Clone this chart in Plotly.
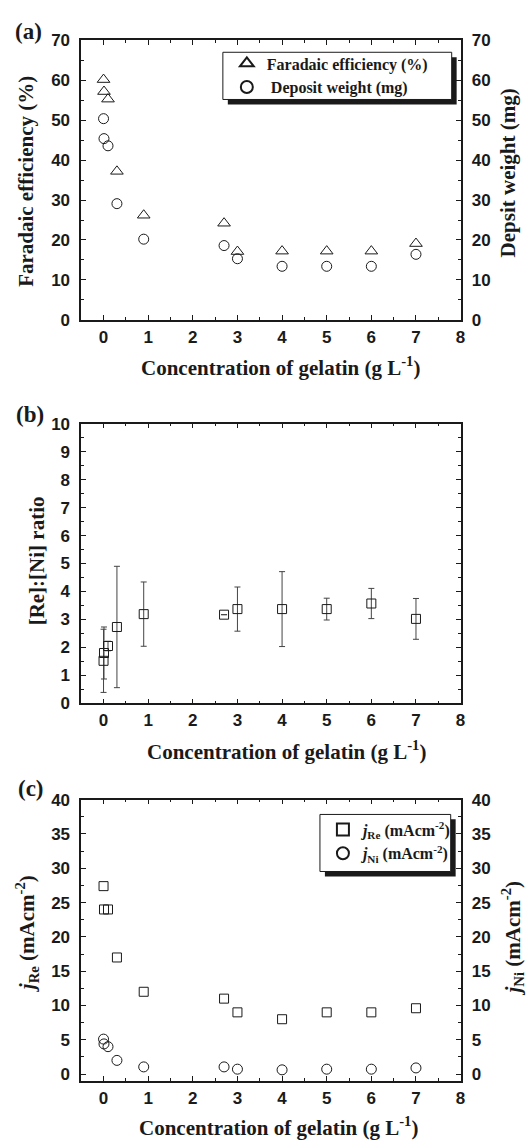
import plotly.graph_objects as go

# ---------------- data ----------------
conc = [0, 0.01, 0.1, 0.3, 0.9, 2.7, 3, 4, 5, 6, 7]

faradaic_eff = [60.2, 57.2, 55.3, 37.2, 26.2, 24.2, 17.1, 17.2, 17.2, 17.2, 19.1]
deposit_weight = [50.4, 45.4, 43.6, 29.1, 20.2, 18.6, 15.3, 13.4, 13.4, 13.4, 16.4]

ratio_re_ni = [1.52, 1.80, 2.05, 2.73, 3.19, 3.17, 3.37, 3.37, 3.37, 3.57, 3.02]
ratio_err = [1.13, 0.93, 0.17, 2.17, 1.15, 0.0, 0.79, 1.34, 0.39, 0.54, 0.73]

j_re = [27.4, 24.0, 24.0, 17.0, 12.0, 11.0, 9.0, 8.0, 9.0, 9.0, 9.6]
j_ni = [5.1, 4.4, 4.0, 2.0, 1.05, 1.05, 0.72, 0.62, 0.72, 0.72, 0.9]

x_ticks = [0, 1, 2, 3, 4, 5, 6, 7, 8]
y_ticks_a = [0, 10, 20, 30, 40, 50, 60, 70]
y_ticks_b = [0, 1, 2, 3, 4, 5, 6, 7, 8, 9, 10]
y_ticks_c = [0, 5, 10, 15, 20, 25, 30, 35, 40]

W, H = 529, 1148


def px(x):
    return x / W


def py(y):
    return 1 - y / H


SERIF = "Liberation Serif"
SANS = "Liberation Sans"
INK = "#1a1a1a"

fig = go.Figure()

mk = dict(color=INK, line=dict(color=INK, width=1))

# (a)
fig.add_trace(go.Scatter(x=conc, y=faradaic_eff, mode="markers",
                         name="<b>Faradaic efficiency (%)</b>",
                         marker=dict(symbol="triangle-up-open", size=11, **mk),
                         xaxis="x", yaxis="y", legend="legend"))
fig.add_trace(go.Scatter(x=conc, y=deposit_weight, mode="markers",
                         name="<b> Deposit weight (mg)</b>",
                         marker=dict(symbol="circle-open", size=10, **mk),
                         xaxis="x", yaxis="y4", legend="legend"))
# (b)
fig.add_trace(go.Scatter(x=conc, y=ratio_re_ni, mode="markers", showlegend=False,
                         marker=dict(symbol="square-open", size=9, **mk),
                         error_y=dict(type="data", array=ratio_err, symmetric=True,
                                      color="#444", thickness=1, width=3),
                         xaxis="x2", yaxis="y2"))
# (c)
fig.add_trace(go.Scatter(x=conc, y=j_re, mode="markers",
                         name="<b><i>j</i><sub>Re</sub> (mAcm<sup>-2</sup>)</b>",
                         marker=dict(symbol="square-open", size=9, **mk),
                         xaxis="x3", yaxis="y3", legend="legend2"))
fig.add_trace(go.Scatter(x=conc, y=j_ni, mode="markers",
                         name="<b><i>j</i><sub>Ni</sub> (mAcm<sup>-2</sup>)</b>",
                         marker=dict(symbol="circle-open", size=10, **mk),
                         xaxis="x3", yaxis="y5", legend="legend2"))

tickfont = dict(family=SANS, size=17, color=INK, weight="bold")
xdom = [px(82), px(465)]


def bold(vals):
    return ["<b>%s</b>" % v for v in vals]


def xax(anchor):
    return dict(domain=xdom, anchor=anchor, range=[-0.5, 8],
                tickvals=x_ticks, ticktext=bold(x_ticks),
                showline=True, linecolor=INK, linewidth=1.5, mirror="ticks",
                ticks="inside", ticklen=5, tickwidth=1.2, tickcolor=INK,
                minor=dict(ticks="inside", ticklen=3, dtick=0.5, tickcolor=INK, tickwidth=1),
                showgrid=False, zeroline=False, tickfont=tickfont, ticklabelstandoff=1)


def yax(dom, rng, tv, minor, side="left", overlay=None, anchor=None, mirror=False):
    d = dict(domain=dom, range=rng, tickvals=tv, ticktext=bold(tv), side=side,
             showline=True, linecolor=INK, linewidth=1.5, mirror=mirror,
             ticks="inside", ticklen=5, tickwidth=1.2, tickcolor=INK,
             minor=dict(ticks="inside", ticklen=3, dtick=minor, tick0=0,
                        tickcolor=INK, tickwidth=1),
             showgrid=False, zeroline=False, tickfont=tickfont, ticklabelstandoff=6)
    if overlay:
        d["overlaying"] = overlay
    if anchor:
        d["anchor"] = anchor
    return d


dom_a = [py(316), py(32)]
dom_b = [py(706), py(421.7)]
dom_c = [py(1090), py(804)]

legend_font = dict(family=SERIF, size=16, color=INK, weight="bold")

fig.update_layout(
    width=W, height=H, margin=dict(l=0, r=0, t=0, b=0),
    paper_bgcolor="white", plot_bgcolor="white",
    xaxis=xax("y"), xaxis2=xax("y2"), xaxis3=xax("y3"),
    yaxis=yax(dom_a, [0, 70], y_ticks_a, 5, anchor="x"),
    yaxis4=yax(dom_a, [0, 70], y_ticks_a, 5, side="right", overlay="y", anchor="x"),
    yaxis2=yax(dom_b, [0, 10], y_ticks_b, 0.5, anchor="x2", mirror="ticks"),
    yaxis3=yax(dom_c, [-1, 40], y_ticks_c, 2.5, anchor="x3"),
    yaxis5=yax(dom_c, [-1, 40], y_ticks_c, 2.5, side="right", overlay="y3", anchor="x3"),
    legend=dict(x=px(229), y=py(38), xanchor="left", yanchor="top",
                bgcolor="rgba(0,0,0,0)", borderwidth=0, font=legend_font,
                tracegroupgap=0, itemsizing="constant"),
    legend2=dict(x=px(326), y=py(817), xanchor="left", yanchor="top",
                 bgcolor="rgba(0,0,0,0)", borderwidth=0, font=legend_font,
                 tracegroupgap=0, itemsizing="constant"),
    showlegend=True,
)

# legend frames with drop shadows
for (x0, y0, x1, y1) in [(225, 44, 456, 92), (323, 819, 455, 877)]:
    fig.add_shape(type="rect", xref="paper", yref="paper",
                  x0=px(x0 + 5), x1=px(x1 + 5), y0=py(y1 + 5), y1=py(y0 + 5),
                  fillcolor=INK, line=dict(width=0), layer="above")
    fig.add_shape(type="rect", xref="paper", yref="paper",
                  x0=px(x0), x1=px(x1), y0=py(y1), y1=py(y0),
                  fillcolor="white", line=dict(color=INK, width=1), layer="above")

title_font = dict(family=SERIF, size=21, color=INK, weight="bold")
label_font = dict(family=SERIF, size=23, color=INK, weight="bold")


def ann(text, x, y, font, angle=0):
    fig.add_annotation(text="<b>%s</b>" % text, x=px(x), y=py(y), xref="paper", yref="paper",
                       showarrow=False, textangle=angle, font=font,
                       xanchor="center", yanchor="middle")


ann("(a)", 29, 23, label_font)
ann("(b)", 30, 412, label_font)
ann("(c)", 31, 793, label_font)

xt = "Concentration of gelatin (g L<sup>-1</sup>)"
ann(xt, 283, 364, title_font)
ann(xt, 289, 754, title_font)
ann(xt, 281, 1136, title_font)

ann("Faradaic efficiency (%)", 26, 175, title_font, -90)
ann("Depsit weight (mg)", 513, 167, title_font, -90)
ann("[Re]:[Ni] ratio", 37, 561, title_font, -90)
ann("<i>j</i><sub>Re</sub> (mAcm<sup>-2</sup>)", 27, 940, title_font, -90)
ann("<i>j</i><sub>Ni</sub> (mAcm<sup>-2</sup>)", 517, 945, title_font, -90)

fig.write_html("out.html")
